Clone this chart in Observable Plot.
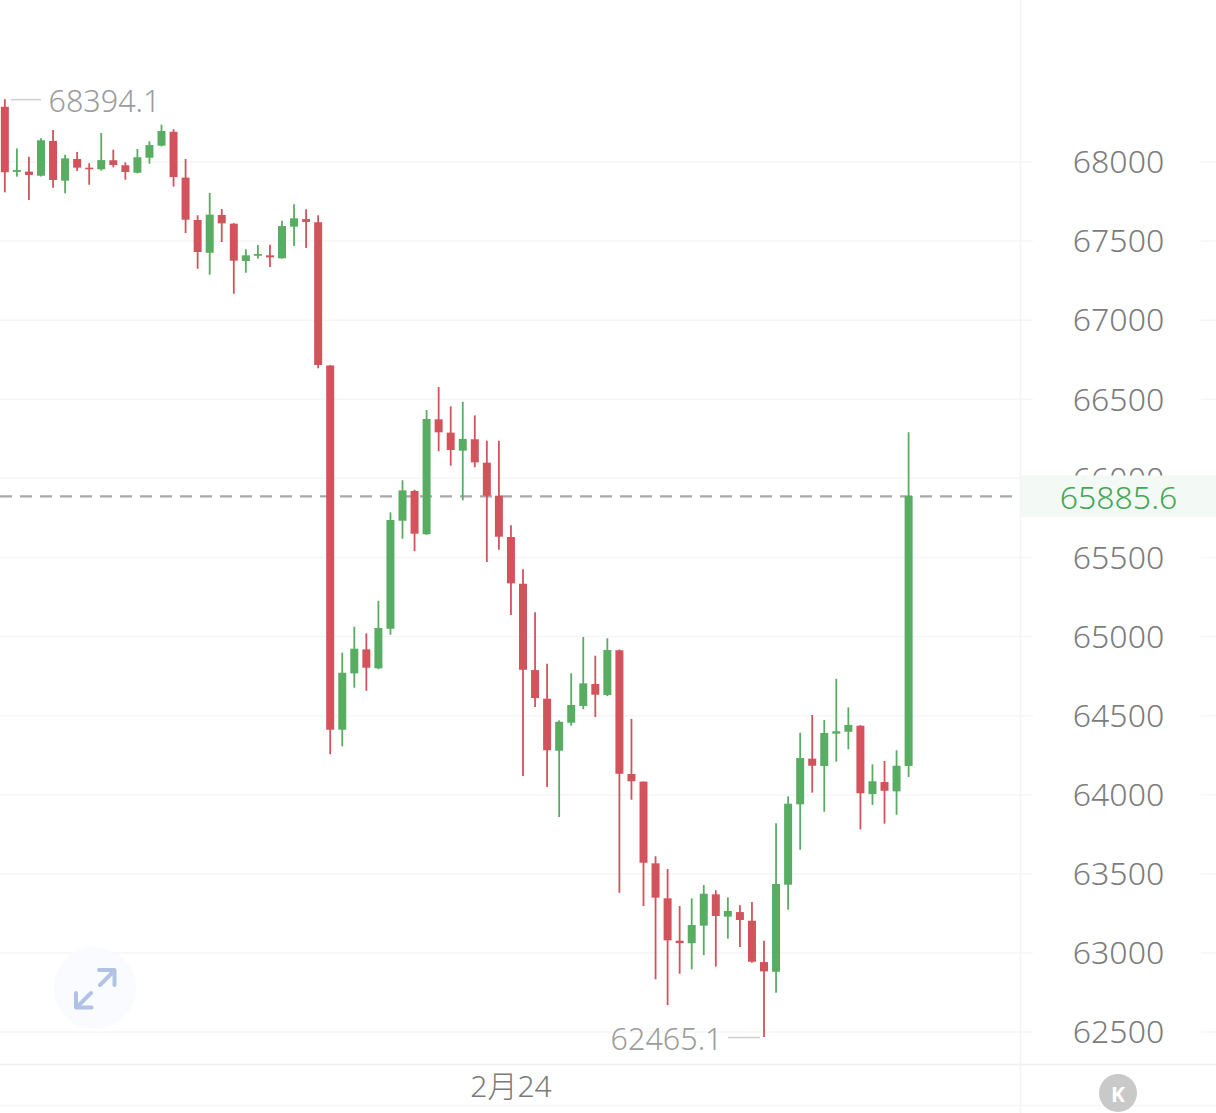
<!DOCTYPE html>
<html lang="zh">
<head>
<meta charset="utf-8">
<title>K线图</title>
<script src="https://cdn.jsdelivr.net/npm/d3@7"></script>
<script src="https://cdn.jsdelivr.net/npm/@observablehq/plot@0.6"></script>
<style>
html,body{margin:0;padding:0;background:#fff;overflow:hidden}
#wrap{position:relative;width:1216px;height:1113px}
#wrap svg{position:absolute;left:0;top:0}
</style>
</head>
<body>
<div id="wrap">
<svg id="chrome" width="1216" height="1113" viewBox="0 0 1216 1113" style="z-index:2;pointer-events:none">
  <line x1="1020.5" y1="0" x2="1020.5" y2="1113" stroke="#f4f4f4" stroke-width="1.5"/>
  <line x1="0" y1="1064.5" x2="1216" y2="1064.5" stroke="#f0f0f0" stroke-width="1.5"/>
  <line x1="0" y1="1105.5" x2="1216" y2="1105.5" stroke="#f5f5f5" stroke-width="1.5"/>
  <circle cx="95" cy="988" r="41" fill="#fafbfe"/>
  <g fill="none" stroke="#b2c2e4" stroke-width="4" stroke-linecap="round" stroke-linejoin="round">
    <path d="M100 985L114 971"/><path d="M99 970H114.5V985"/>
    <path d="M91 993L77 1007"/><path d="M76 993V1007.5H91.5"/>
  </g>
  <circle cx="1118" cy="1093" r="19" fill="#c9c9c9"/>
  <text x="1118" y="1094" text-anchor="middle" dominant-baseline="central" fill="#fff" font-family="Noto Sans" font-weight="700" font-size="21">K</text>
</svg>
</div>
<script>
const opens = [68346,67934,67936,67910,68130,67879,68016,67961,67951,68008,67976,67929,68024,68100,68188,67898,67630,67423,67662,67607,
  67371,67404,67407,67388,67588,67636,67616,66710,64408,64764,64916,64796,65046,65729,65917,65643,66370,66286,66172,66244,
  66096,65887,65626,65331,64785,64604,64275,64452,64558,64697,64627,64910,64128,64080,63563,63342,63074,63058,63169,63367,
  63226,63255,63200,62939,62878,63428,63936,64225,64178,64383,64395,64433,64001,64077,64018,64178];
const closes = [67932,67946,67915,68134,67883,68020,67961,67951,68009,67978,67934,68027,68104,68193,67902,67632,67428,67664,67609,67373,
  67407,67415,67394,67592,67641,67618,66713,64408,64768,64920,64800,65051,65734,65921,65647,66372,66288,66176,66246,66098,
  65887,65628,65333,64787,64608,64278,64458,64564,64701,64629,64912,64130,64082,63567,63346,63076,63059,63173,63371,63230,
  63262,63205,62941,62880,63432,63940,64229,64180,64387,64398,64438,64006,64082,64022,64180,65885.6];
const highs = [68394.1,68083,68030,68147,68199,68043,68060,67989,68180,68075,67995,68079,68128,68233,68204,68016,67660,67801,67700,67610,
  67445,67472,67474,67626,67729,67698,67660,66713,64895,65059,65017,65223,65782,65985,65925,66429,66574,66452,66481,66395,
  66235,66235,65700,65422,65150,64825,64467,64764,64994,64876,64986,64915,64476,64080,63608,63527,63293,63342,63426,63393,
  63348,63298,63319,63074,63816,63987,64389,64501,64469,64730,64549,64436,64189,64210,64278,66288];
const lows = [67805,67904,67757,67905,67834,67799,67940,67853,67942,67963,67885,67925,67986,68095,67841,67548,67322,67284,67491,67164,
  67297,67386,67333,67385,67466,67453,66693,64252,64303,64673,64654,64790,65008,65615,65536,65640,66168,66077,65858,66067,
  65468,65546,65133,64115,64551,64046,63856,64433,64537,64488,64620,63377,63965,63293,62830,62667,62865,62893,62983,62910,
  63087,63034,62935,62465.1,62745,63270,63649,64010,63889,64206,64284,63778,63932,63814,63870,64109];
const yTicks = [62500,63000,63500,64000,64500,65000,65500,66000,66500,67000,67500,68000];
const currentPrice = 65885.6;
const highLabel = "68394.1", lowLabel = "62465.1";
const dateLabel = "2月24", dateIndex = 42;

const red = "#d2535c", green = "#58ad63";
const candles = opens.map((o,i)=>({i,open:o,close:closes[i],high:highs[i],low:lows[i],up:closes[i]>=o}));
const color = d => d.up ? green : red;

// one candle is 12.05 wide; this puts the first candle at the left edge of the page
const X_LEFT = -0.36, X_RIGHT = 100.55;
const px = p => X_LEFT + (X_RIGHT-X_LEFT)*p/1216;
const font = "'Noto Sans','Noto Sans CJK SC',sans-serif";

const chart = Plot.plot({
  width:1216, height:1113,
  marginTop:0, marginBottom:0, marginLeft:0, marginRight:196,
  style:{fontFamily:font, background:"transparent", overflow:"hidden"},
  x:{type:"linear", domain:[X_LEFT,X_RIGHT], range:[0,1216], axis:null},
  y:{type:"linear", domain:[62500,68000], range:[1031.5,161.5]},
  marks:[
    Plot.ruleY(yTicks,{x1:px(0),x2:px(1033),stroke:"#f6f6f6",strokeWidth:1.5}),
    Plot.ruleY(yTicks,{x1:px(1201),x2:px(1216),stroke:"#f6f6f6",strokeWidth:1.5}),
    Plot.axisY({anchor:"right",ticks:yTicks,tickSize:0,tickPadding:98,textAnchor:"middle",fontSize:32,fontWeight:300,fill:"#7c7c7c",dy:1,label:null,tickFormat:d=>String(d)}),
    Plot.ruleY([currentPrice],{x1:px(1021),x2:px(1216),stroke:"#f3faf5",strokeWidth:42}),
    Plot.text([currentPrice],{x:px(1118),y:d=>d,text:d=>String(d),dy:2,fontSize:32,fontWeight:300,fill:"#45a656"}),
    Plot.ruleY([currentPrice],{x1:px(0),x2:px(1014),stroke:"#a8a8a8",strokeWidth:2.2,strokeDasharray:"12 8"}),
    Plot.ruleX(candles,{x:"i",y1:"low",y2:"high",stroke:color,strokeWidth:1.8}),
    Plot.ruleX(candles,{x:"i",y1:"open",y2:"close",stroke:color,strokeWidth:8}),
    // high and low markers
    Plot.ruleY([68394.1],{x1:px(11),x2:px(41),stroke:"#cfcfcf",strokeWidth:1.5}),
    Plot.text([68394.1],{x:px(48),y:d=>d,text:[highLabel],textAnchor:"start",dy:2.5,fontSize:30.5,fontWeight:300,fill:"#9c9c9c"}),
    Plot.ruleY([62465.1],{x1:px(728),x2:px(760),stroke:"#cfcfcf",strokeWidth:1.5}),
    Plot.text([62465.1],{x:px(722),y:d=>d,text:[lowLabel],textAnchor:"end",dy:3,fontSize:30.5,fontWeight:300,fill:"#9c9c9c"}),
    // date label
    Plot.text([dateLabel],{x:[dateIndex],frameAnchor:"bottom",dy:-17,text:d=>d,fontSize:30,fontWeight:300,fill:"#7a7a7a",lineAnchor:"bottom"})
  ]
});
document.getElementById("wrap").prepend(chart);
</script>
</body>
</html>
